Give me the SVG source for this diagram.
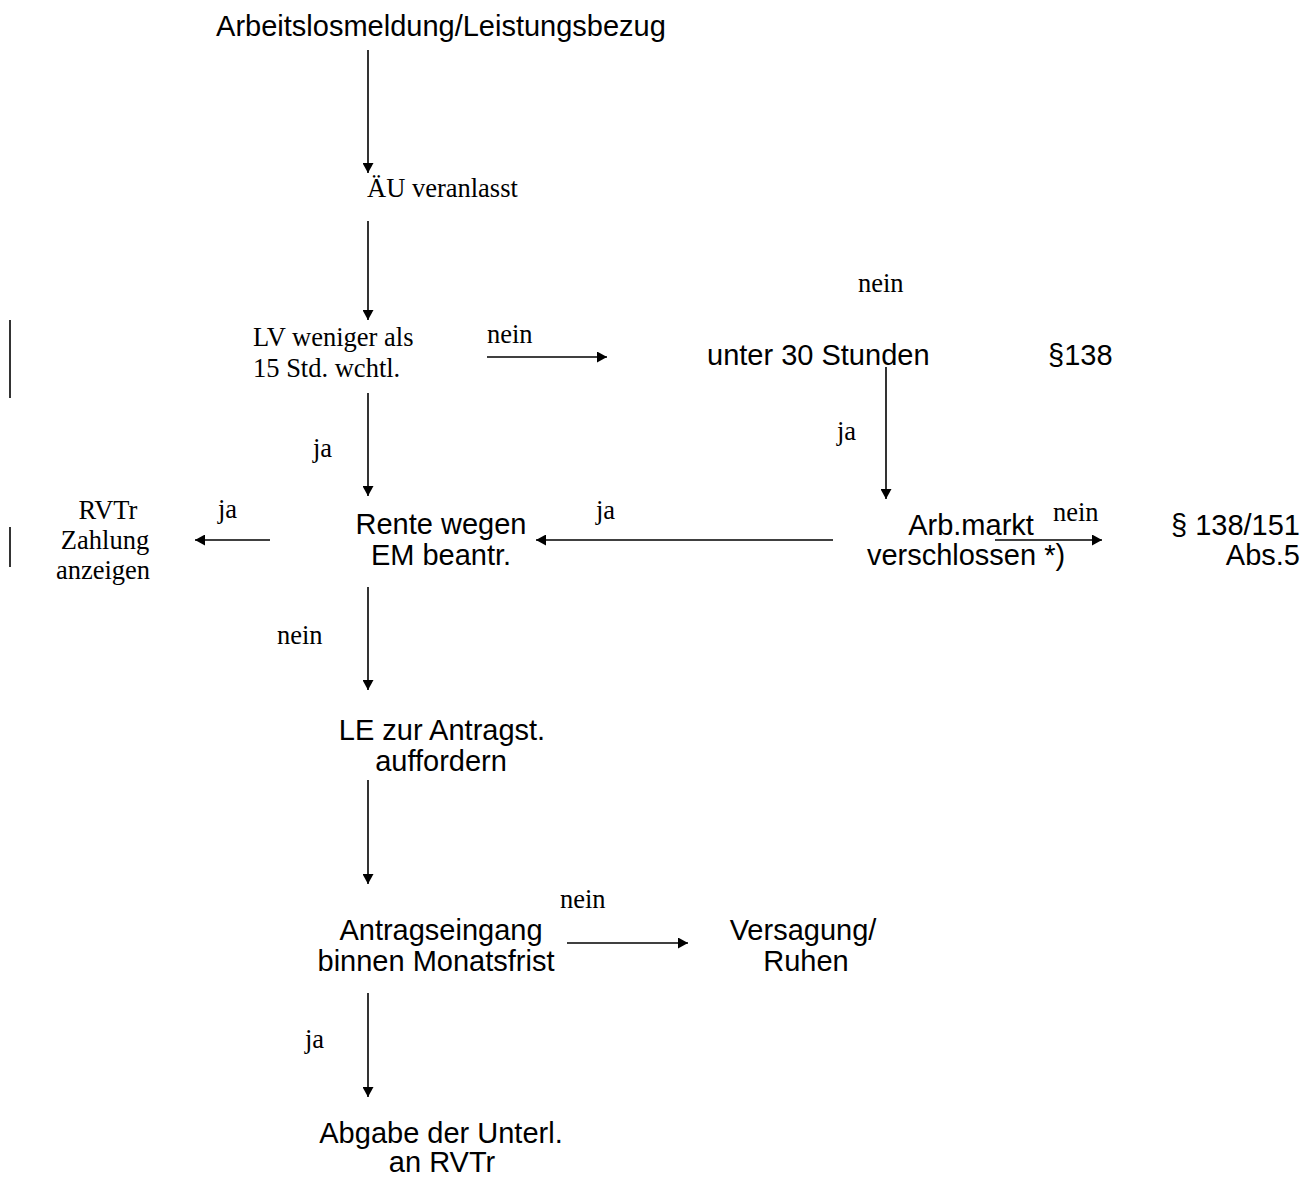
<svg xmlns="http://www.w3.org/2000/svg" width="1304" height="1178" viewBox="0 0 1304 1178">
<style>
.s{font-family:"Liberation Sans",Arial,sans-serif;font-size:29px;fill:#000}
.r{font-family:"Liberation Serif","Times New Roman",serif;font-size:26.5px;fill:#000}
.m{text-anchor:middle}
.e{text-anchor:end}
.c{stroke:#000;stroke-width:1.6;fill:none}
</style>
<defs>
<marker id="a" viewBox="0 0 10 11" refX="10" refY="5.5" markerWidth="10" markerHeight="11" markerUnits="userSpaceOnUse" orient="auto">
<path d="M0,0 L10,5.5 L0,11 Z" fill="#000"/>
</marker>
</defs>
<rect width="1304" height="1178" fill="#fff"/>
<g id="connectors">
<line class="c" x1="368" y1="50" x2="368" y2="173" marker-end="url(#a)"/>
<line class="c" x1="368" y1="221" x2="368" y2="320" marker-end="url(#a)"/>
<line class="c" x1="368" y1="393" x2="368" y2="496" marker-end="url(#a)"/>
<line class="c" x1="368" y1="587" x2="368" y2="690" marker-end="url(#a)"/>
<line class="c" x1="368" y1="780" x2="368" y2="884" marker-end="url(#a)"/>
<line class="c" x1="368" y1="993" x2="368" y2="1097" marker-end="url(#a)"/>
<line class="c" x1="886" y1="367" x2="886" y2="499" marker-end="url(#a)"/>
<line class="c" x1="487" y1="357" x2="607" y2="357" marker-end="url(#a)"/>
<line class="c" x1="270" y1="540" x2="195" y2="540" marker-end="url(#a)"/>
<line class="c" x1="833" y1="540" x2="536" y2="540" marker-end="url(#a)"/>
<line class="c" x1="995" y1="540" x2="1102" y2="540" marker-end="url(#a)"/>
<line class="c" x1="567" y1="943" x2="688" y2="943" marker-end="url(#a)"/>
<line class="c" x1="10" y1="320" x2="10" y2="398"/>
<line class="c" x1="10" y1="527" x2="10" y2="567"/>
</g>
<g id="labels">
<text class="r" x="487" y="343">nein</text>
<text class="r" x="858" y="292">nein</text>
<text class="r" x="837" y="440">ja</text>
<text class="r" x="313" y="457">ja</text>
<text class="r" x="218" y="518">ja</text>
<text class="r" x="596" y="519">ja</text>
<text class="r" x="1053" y="521">nein</text>
<text class="r" x="277" y="644">nein</text>
<text class="r" x="560" y="908">nein</text>
<text class="r" x="305" y="1048">ja</text>
</g>
<g id="n-start"><text class="s m" x="441" y="36">Arbeitslosmeldung/Leistungsbezug</text></g>
<g id="n-aeu"><text class="r" x="367" y="197">ÄU veranlasst</text></g>
<g id="n-lv"><text class="r" x="253" y="346">LV weniger als</text><text class="r" x="253" y="377">15 Std. wchtl.</text></g>
<g id="n-unter30"><text class="s" x="707" y="365">unter 30 Stunden</text></g>
<g id="n-p138"><text class="s" x="1048" y="365">§138</text></g>
<g id="n-rvtr"><text class="r m" x="108" y="519">RVTr</text><text class="r m" x="105" y="549">Zahlung</text><text class="r m" x="103" y="579">anzeigen</text></g>
<g id="n-rente"><text class="s m" x="441" y="534">Rente wegen</text><text class="s m" x="441" y="565">EM beantr.</text></g>
<g id="n-arbmarkt"><text class="s m" x="971" y="535">Arb.markt</text><text class="s m" x="966" y="565">verschlossen *)</text></g>
<g id="n-p151"><text class="s e" x="1300" y="535">§ 138/151</text><text class="s e" x="1300" y="565">Abs.5</text></g>
<g id="n-le"><text class="s m" x="442" y="740">LE zur Antragst.</text><text class="s m" x="441" y="771">auffordern</text></g>
<g id="n-antrag"><text class="s m" x="441" y="940">Antragseingang</text><text class="s m" x="436" y="971">binnen Monatsfrist</text></g>
<g id="n-versagung"><text class="s m" x="803" y="940">Versagung/</text><text class="s m" x="806" y="971">Ruhen</text></g>
<g id="n-abgabe"><text class="s m" x="441" y="1143">Abgabe der Unterl.</text><text class="s m" x="442" y="1172">an RVTr</text></g>
</svg>
